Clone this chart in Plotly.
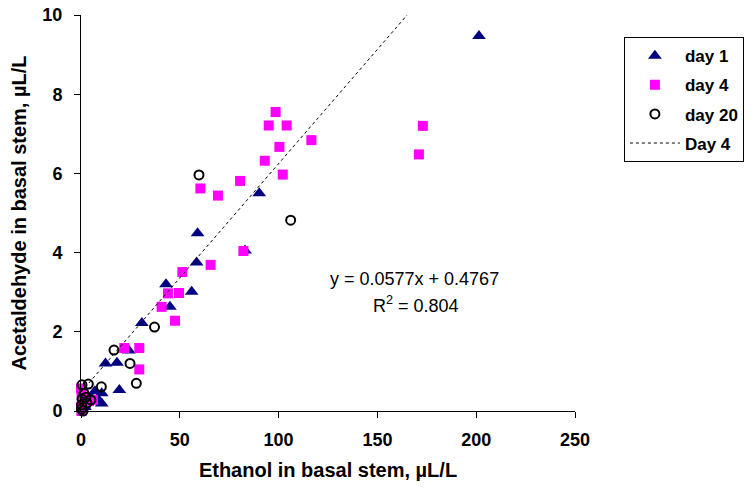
import plotly.graph_objects as go

# ---- data ----
day1_x = [201.4, 90.2, 83.0, 59.0, 58.5, 43.0, 56.0, 45.0, 30.8, 24.2, 12.4, 18.2,
          19.4, 10.5, 10.5, 7.0, 8.5, 0.5, 1.5, 3.0, 5.0, 2.0]
day1_y = [9.47, 5.50, 4.05, 4.49, 3.75, 3.20, 3.01, 2.63, 2.22, 1.53, 1.20, 1.22,
          0.53, 0.45, 0.19, 0.50, 0.30, 0.05, 0.15, 0.25, 0.35, 0.10]

day4_x = [171.0, 173.0, 98.5, 95.0, 104.1, 116.6, 100.4, 93.0, 102.1, 80.5, 60.4,
          69.3, 82.2, 65.6, 51.3, 44.0, 49.6, 40.8, 47.6, 21.9, 29.5, 29.5,
          0.0, 0.3, 0.5, 1.0, 0.0, 0.2, 2.0, 4.0, 6.0]
day4_y = [6.48, 7.20, 7.55, 7.21, 7.21, 6.84, 6.67, 6.32, 5.97, 5.81, 5.62,
          5.44, 4.04, 3.69, 3.51, 2.97, 2.98, 2.63, 2.28, 1.59, 1.59, 1.05,
          0.57, 0.45, 0.35, 0.20, 0.10, 0.00, 0.30, 0.25, 0.28]

day20_x = [59.7, 106.1, 37.2, 16.7, 24.8, 28.0, 10.3, 3.7, 0.5, 1.5, 0.5, 0.3,
           0.2, 2.5, 5.0, 3.0, 1.0]
day20_y = [5.96, 4.82, 2.12, 1.54, 1.20, 0.70, 0.61, 0.68, 0.66, 0.45, 0.30, 0.15,
           0.05, 0.35, 0.28, 0.20, 0.00]

series_names = ["day 1", "day 4", "day 20", "Day 4"]

trend_slope = 0.0577
trend_intercept = 0.4767
trend_r2 = 0.804

x_ticks = [0, 50, 100, 150, 200, 250]
y_ticks = [0, 2, 4, 6, 8, 10]

# trend line spans from x=0 up to where it meets the top of the y axis
y_top = y_ticks[-1]
trend_x = [0, (y_top - trend_intercept) / trend_slope]
trend_y = [trend_intercept + trend_slope * v for v in trend_x]

FONT = "Liberation Sans, Arial, sans-serif"

fig = go.Figure()
fig.add_trace(go.Scatter(
    x=day1_x, y=day1_y, mode="markers", name=series_names[0], cliponaxis=False,
    legendgroup="a",
    marker=dict(symbol="triangle-up", size=12, color="#000080",
                line=dict(width=0))))
fig.add_trace(go.Scatter(
    x=day4_x, y=day4_y, mode="markers", name=series_names[1], cliponaxis=False,
    legendgroup="b",
    marker=dict(symbol="square", size=10, color="#FF00FF",
                line=dict(width=0))))
fig.add_trace(go.Scatter(
    x=day20_x, y=day20_y, mode="markers", name=series_names[2],
    cliponaxis=False, legendgroup="c",
    marker=dict(symbol="circle-open", size=9, color="#000000",
                line=dict(width=2, color="#000000"))))
fig.add_trace(go.Scatter(
    x=trend_x, y=trend_y, mode="lines", name=series_names[3], cliponaxis=False,
    legendgroup="d",
    line=dict(color="#000000", width=1, dash="dot")))

fig.add_annotation(
    x=169, y=3.33, xref="x", yref="y",
    text=f"y = {trend_slope}x + {trend_intercept}",
    showarrow=False, font=dict(family=FONT, size=18, color="#000000"))
fig.add_annotation(
    x=169.7, y=2.68, xref="x", yref="y",
    text=f"R<sup>2</sup> = {trend_r2}",
    showarrow=False, font=dict(family=FONT, size=18, color="#000000"))

axis_common = dict(
    showline=True, linecolor="#000000", linewidth=1,
    ticks="outside", ticklen=6, tickcolor="#000000", tickwidth=1,
    showgrid=False, zeroline=False, ticklabeloverflow="allow",
    tickfont=dict(family=FONT, size=18, color="#000000", weight="bold"),
)

fig.update_layout(
    width=770, height=488,
    margin=dict(l=73, r=203, t=7, b=85, autoexpand=False),
    paper_bgcolor="white", plot_bgcolor="white",
    font=dict(family=FONT, color="#000000"),
    xaxis=dict(range=[0, 250], tickvals=x_ticks, ticklabelstandoff=6,
               title=dict(text="Ethanol in basal stem, µL/L", standoff=14,
                          font=dict(family=FONT, size=20, weight="bold")),
               **axis_common),
    yaxis=dict(range=[0, 10], tickvals=y_ticks, ticklabelstandoff=8,
               title=dict(text="Acetaldehyde in basal stem, µL/L", standoff=12,
                          font=dict(family=FONT, size=20, weight="bold")),
               **axis_common),
    showlegend=True,
    legend=dict(
        x=1.099, y=0.944, xanchor="left", yanchor="top",
        bordercolor="#000000", borderwidth=1, bgcolor="white",
        font=dict(family=FONT, size=17, weight="bold", color="#000000"),
        tracegroupgap=4, itemwidth=50,
    ),
)

fig.write_html("out.html",
               post_script="document.documentElement.style.overflow='hidden';"
                           "document.body.style.overflow='hidden';")
